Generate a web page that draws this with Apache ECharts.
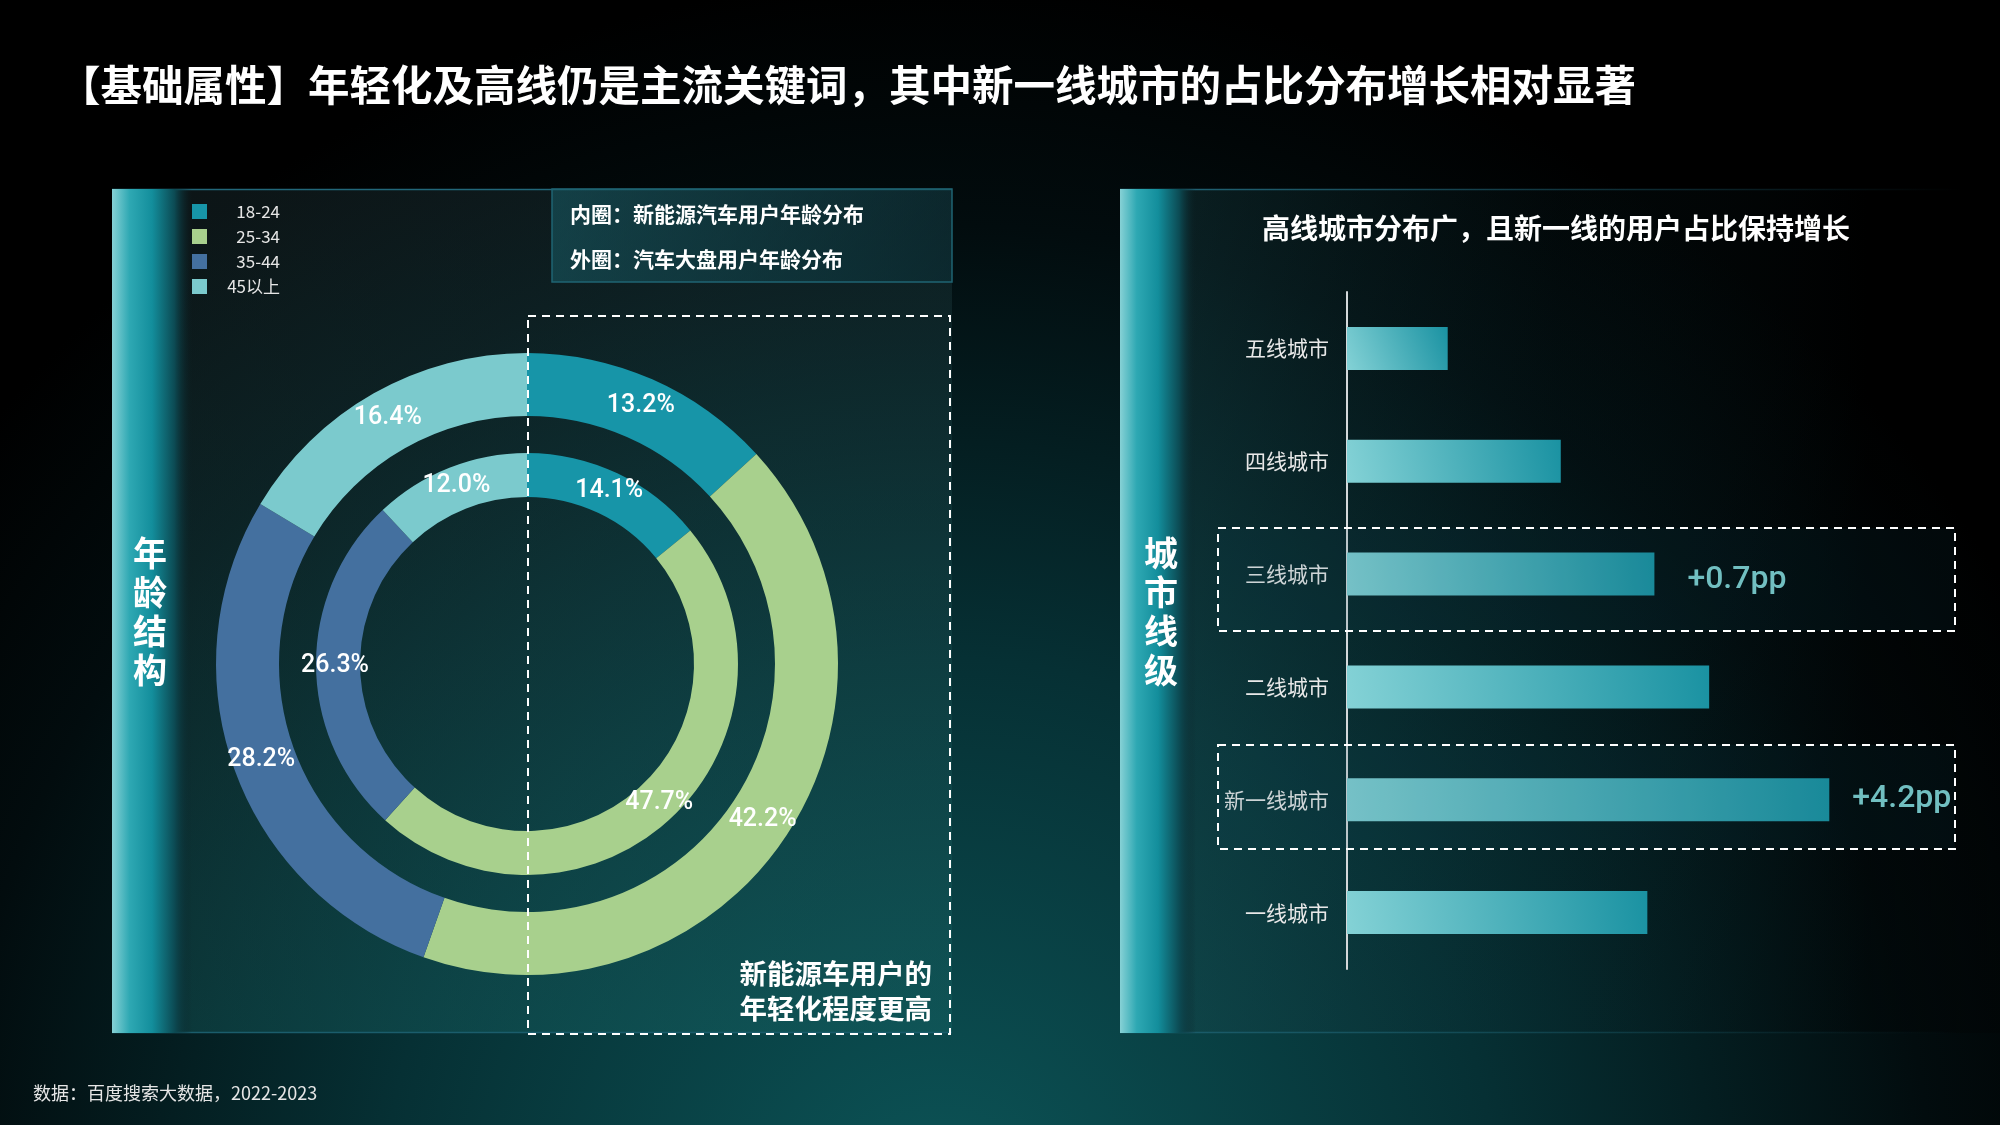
<!DOCTYPE html>
<html><head><meta charset="utf-8">
<script src="https://cdn.jsdelivr.net/npm/echarts@6/dist/echarts.min.js"></script>
<style>html,body{margin:0;padding:0;background:#000;}#c{width:2000px;height:1125px;}</style>
</head><body><div id="c"></div>
<script>
// ---- data ----
const ageGroups = ['18-24', '25-34', '35-44', '45以上'];
const nevShare = [14.1, 47.7, 26.3, 12.0];      // 内圈：新能源汽车用户
const allCarShare = [13.2, 42.2, 28.2, 16.4];   // 外圈：汽车大盘用户
const cityTiers = ['五线城市', '四线城市', '三线城市', '二线城市', '新一线城市', '一线城市'];
const cityShare = [5.7, 12.1, 17.4, 20.5, 27.3, 17.0];
const cityGrowth = ['', '', '+0.7pp', '', '+4.2pp', ''];
const growthGap = [0, 0, 33, 0, 23, 0];
const growthDy = [0, 0, 6, 0, -1, 0];

const ageColors = ['#1795a8', '#a8d08d', '#44709f', '#7bcacd'];
const CJK = '"Noto Sans CJK SC", "Noto Sans", sans-serif';

function pieData(vals) {
  return ageGroups.map((n, i) => ({ name: n, value: vals[i], itemStyle: { color: ageColors[i] } }));
}

const stripGrad = {
  type: 'linear', x: 0, y: 0, x2: 1, y2: 0,
  colorStops: [
    { offset: 0, color: '#86d1d5' }, { offset: 0.22, color: '#2ea8b3' },
    { offset: 0.5, color: '#138e9c' }, { offset: 0.78, color: '#0c4b54' },
    { offset: 1, color: 'rgba(12,35,40,0)' }
  ]
};

const chart = echarts.init(document.getElementById('c'), null, { width: 2000, height: 1125 });
chart.setOption({
  animation: false,
  backgroundColor: {
    type: 'radial', x: 0.47, y: 1.08, r: 1.1,
    colorStops: [
      { offset: 0, color: '#0c5558' }, { offset: 0.45, color: '#063034' },
      { offset: 0.8, color: '#020c0e' }, { offset: 1, color: '#000000' }
    ]
  },
  title: {
    text: '【基础属性】年轻化及高线仍是主流关键词，其中新一线城市的占比分布增长相对显著',
    left: 54, top: 59,
    textStyle: { color: '#ffffff', fontSize: 41.5, fontWeight: 'bold', fontFamily: CJK }
  },
  legend: {
    orient: 'vertical', left: 187, top: 198,
    itemWidth: 15, itemHeight: 15, itemGap: 8, icon: 'rect',
    selectedMode: false,
    data: ageGroups,
    formatter: '{a|{name}}',
    textStyle: {
      color: '#e6e6e6', fontSize: 17, fontFamily: CJK, lineHeight: 15,
      rich: { a: { width: 68, align: 'right', fontSize: 17, lineHeight: 15, color: '#e6e6e6', fontFamily: CJK } }
    }
  },
  grid: { left: 1347, top: 292, width: 530, height: 677 },
  xAxis: { type: 'value', min: 0, max: 30, show: false, splitLine: { show: false } },
  yAxis: {
    type: 'category', inverse: true, data: cityTiers,
    axisLine: { show: true, lineStyle: { color: '#d4d8da', width: 2 } },
    axisTick: { show: false },
    axisLabel: { color: '#e8e8e8', fontSize: 21, margin: 18, fontFamily: CJK }
  },
  graphic: [
    // left panel
    { type: 'rect', shape: { x: 112, y: 189, width: 840, height: 844 }, z: -10,
      style: { fill: { type: 'linear', x: 0, y: 0, x2: 0, y2: 1,
        colorStops: [{ offset: 0, color: 'rgba(35,60,65,0.35)' }, { offset: 1, color: 'rgba(25,105,105,0.35)' }] } } },
    { type: 'line', shape: { x1: 112, y1: 189.5, x2: 952, y2: 189.5 }, z: -5, style: { stroke: '#22677a', lineWidth: 1.5 } },
    { type: 'line', shape: { x1: 112, y1: 1032.5, x2: 952, y2: 1032.5 }, z: -5, style: { stroke: '#1b5d6c', lineWidth: 1.5 } },
    { type: 'rect', shape: { x: 112, y: 189, width: 80, height: 844 }, z: -4, style: { fill: stripGrad } },
    { type: 'text', x: 150, y: 612, z: 5,
      style: { text: '年\n龄\n结\n构', fill: '#ffffff', font: 'bold 34px ' + CJK, lineHeight: 39, align: 'center', verticalAlign: 'middle' } },
    // info box
    { type: 'rect', shape: { x: 552, y: 189, width: 400, height: 93 }, z: -3,
      style: { fill: { type: 'linear', x: 0, y: 0, x2: 1, y2: 1,
        colorStops: [{ offset: 0, color: 'rgba(25,95,105,0.55)' }, { offset: 1, color: 'rgba(10,50,58,0.45)' }] },
        stroke: '#1f6473', lineWidth: 1.5 } },
    { type: 'text', x: 570, y: 214, z: 5,
      style: { text: '内圈：新能源汽车用户年龄分布', fill: '#ffffff', font: 'bold 21px ' + CJK, verticalAlign: 'middle' } },
    { type: 'text', x: 570, y: 259, z: 5,
      style: { text: '外圈：汽车大盘用户年龄分布', fill: '#ffffff', font: 'bold 21px ' + CJK, verticalAlign: 'middle' } },
    // dashed highlight (left)
    { type: 'rect', shape: { x: 528, y: 316, width: 422, height: 718 }, z: 10,
      style: { fill: 'none', stroke: '#ffffff', lineWidth: 2, lineDash: [8, 6] } },
    { type: 'text', x: 932, y: 974, z: 10,
      style: { text: '新能源车用户的', fill: '#ffffff', font: 'bold 27.5px ' + CJK, align: 'right', verticalAlign: 'middle' } },
    { type: 'text', x: 932, y: 1009, z: 10,
      style: { text: '年轻化程度更高', fill: '#ffffff', font: 'bold 27.5px ' + CJK, align: 'right', verticalAlign: 'middle' } },
    // right panel
    { type: 'rect', shape: { x: 1120, y: 189, width: 880, height: 844 }, z: -10,
      style: { fill: { type: 'linear', x: 0, y: 0, x2: 1, y2: 0,
        colorStops: [{ offset: 0, color: 'rgba(30,80,85,0.35)' }, { offset: 0.5, color: 'rgba(10,40,45,0.15)' }, { offset: 0.85, color: 'rgba(0,0,0,0.35)' }, { offset: 1, color: 'rgba(0,0,0,0.2)' }] } } },
    { type: 'line', shape: { x1: 1120, y1: 189.5, x2: 1960, y2: 189.5 }, z: -5,
      style: { stroke: { type: 'linear', x: 0, y: 0, x2: 1, y2: 0, colorStops: [{ offset: 0, color: '#22677a' }, { offset: 1, color: 'rgba(34,103,122,0)' }] }, lineWidth: 1.5 } },
    { type: 'line', shape: { x1: 1120, y1: 1032.5, x2: 1960, y2: 1032.5 }, z: -5,
      style: { stroke: { type: 'linear', x: 0, y: 0, x2: 1, y2: 0, colorStops: [{ offset: 0, color: '#1b5d6c' }, { offset: 1, color: 'rgba(27,93,108,0)' }] }, lineWidth: 1.5 } },
    { type: 'rect', shape: { x: 1120, y: 189, width: 76, height: 844 }, z: -4, style: { fill: stripGrad } },
    { type: 'text', x: 1161, y: 612, z: 5,
      style: { text: '城\n市\n线\n级', fill: '#ffffff', font: 'bold 34px ' + CJK, lineHeight: 39, align: 'center', verticalAlign: 'middle' } },
    { type: 'text', x: 1556, y: 228, z: 5,
      style: { text: '高线城市分布广，且新一线的用户占比保持增长', fill: '#ffffff', font: 'bold 28px ' + CJK, align: 'center', verticalAlign: 'middle' } },
    { type: 'rect', shape: { x: 1218, y: 528, width: 737, height: 103 }, z: 10,
      style: { fill: 'rgba(20,70,90,0.12)', stroke: '#ffffff', lineWidth: 2, lineDash: [8, 6] } },
    { type: 'rect', shape: { x: 1218, y: 745, width: 737, height: 104 }, z: 10,
      style: { fill: 'rgba(20,70,90,0.12)', stroke: '#ffffff', lineWidth: 2, lineDash: [8, 6] } },
    // footer
    { type: 'text', x: 33, y: 1093, z: 5,
      style: { text: '数据：百度搜索大数据，2022-2023', fill: '#e6e6e6', font: '18px ' + CJK, verticalAlign: 'middle' } }
  ],
  series: [
    {
      type: 'pie', name: '汽车大盘', center: [527, 664], radius: [248, 311],
      startAngle: 90, clockwise: true, silent: true, z: 3,
      itemStyle: { borderWidth: 0 },
      label: { show: true, position: 'inside', color: '#ffffff', fontSize: 25, fontWeight: 500, fontFamily: 'Roboto',
        formatter: p => p.value.toFixed(1) + '%' },
      labelLine: { show: false },
      emphasis: { disabled: true },
      data: pieData(allCarShare)
    },
    {
      type: 'pie', name: '新能源', center: [527, 664], radius: [167, 211],
      startAngle: 90, clockwise: true, silent: true, z: 3,
      itemStyle: { borderWidth: 0 },
      label: { show: true, position: 'inside', color: '#ffffff', fontSize: 25, fontWeight: 500, fontFamily: 'Roboto',
        formatter: p => p.value.toFixed(1) + '%' },
      labelLine: { show: false },
      emphasis: { disabled: true },
      data: pieData(nevShare)
    },
    {
      type: 'bar', barWidth: 43, silent: true, z: 3,
      itemStyle: { color: { type: 'linear', x: 0, y: 1, x2: 1, y2: 0,
        colorStops: [{ offset: 0, color: '#84d2d6' }, { offset: 1, color: '#1a92a2' }] } },
      data: cityShare.map((v, i) => ({
        value: v,
        label: cityGrowth[i] ? { show: true, position: 'right', distance: growthGap[i], offset: [0, growthDy[i]], formatter: cityGrowth[i],
          color: '#7fd0d0', fontSize: 32, fontWeight: 500, fontFamily: 'Roboto' } : { show: false }
      }))
    }
  ]
});
</script></body></html>
